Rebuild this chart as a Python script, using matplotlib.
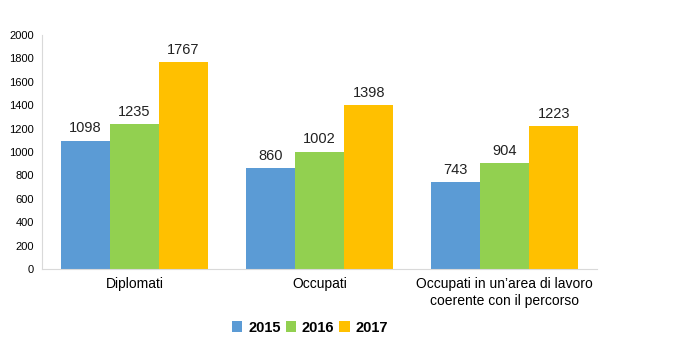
import numpy as np
import matplotlib.pyplot as plt

plt.rcParams['font.family'] = ['Liberation Sans', 'DejaVu Sans']

categories = ['Diplomati', 'Occupati', 'Occupati in un\u2019area di lavoro\ncoerente con il percorso']
years = ['2015', '2016', '2017']
values_2015 = [1098, 860, 743]
values_2016 = [1235, 1002, 904]
values_2017 = [1767, 1398, 1223]
colors = ['#5B9BD5', '#92D050', '#FFC000']

fig = plt.figure(figsize=(6.74, 3.64), dpi=100)
ax = fig.add_axes([0.0623, 0.261, 0.8240, 0.643])

x = np.arange(len(categories))
w = 0.265
for i, (vals, lab, col) in enumerate(zip([values_2015, values_2016, values_2017], years, colors)):
    bars = ax.bar(x + (i - 1) * w, vals, width=w, color=col, label=lab)
    for b, v in zip(bars, vals):
        ax.text(b.get_x() + b.get_width() / 2, v + 45, str(v),
                ha='center', va='bottom', fontsize=10.5, color='#222222')

ax.set_xlim(-0.5, 2.5)
ax.set_ylim(0, 2000)
ax.set_yticks(np.arange(0, 2001, 200))
ax.tick_params(axis='y', labelsize=8, length=0, pad=6)
ax.tick_params(axis='x', labelsize=10, length=0, pad=6)
ax.set_xticks(x)
ax.set_xticklabels(categories)
for s in ['top', 'right']:
    ax.spines[s].set_visible(False)
for s in ['left', 'bottom']:
    ax.spines[s].set_color('#D9D9D9')

leg = fig.legend(loc='center', bbox_to_anchor=(0.46, 0.10), ncol=3, frameon=False,
                 prop={'weight': 'bold', 'size': 10.5}, handlelength=0.7, handleheight=0.7,
                 handletextpad=0.4, columnspacing=0.35)

fig.savefig('out.png', dpi=100)
